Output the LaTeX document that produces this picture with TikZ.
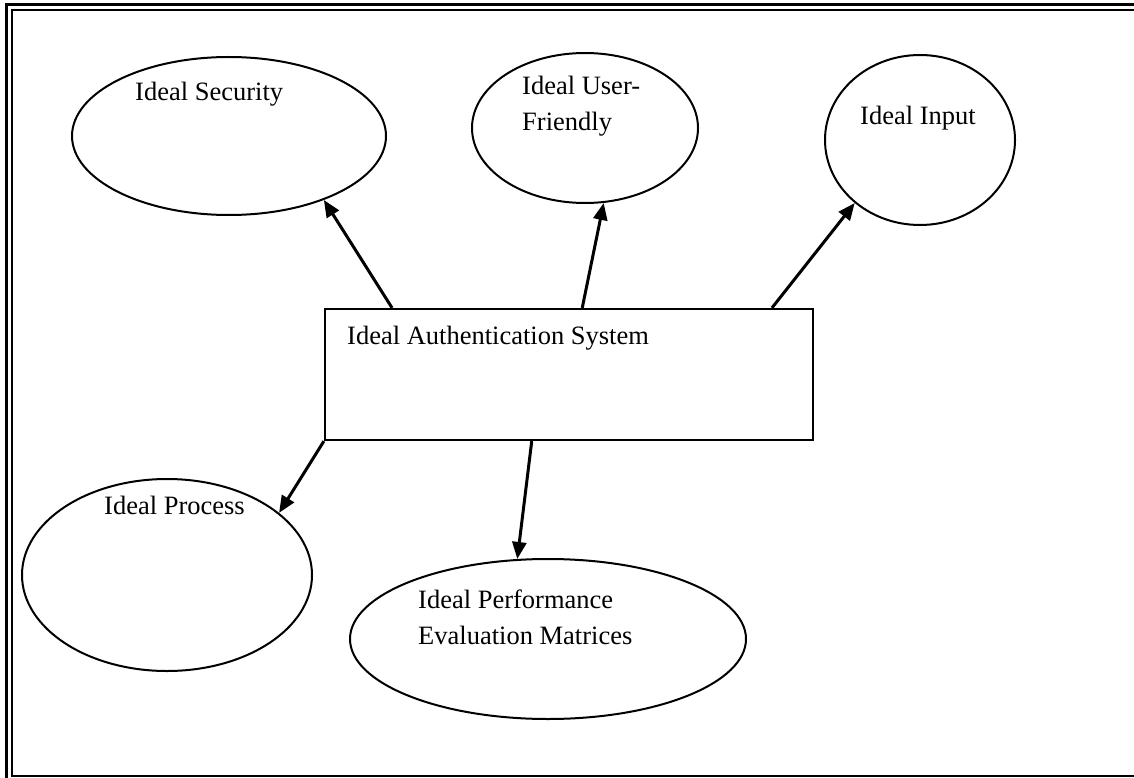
\documentclass[tikz,border=0pt]{standalone}
\usepackage{fontspec}
\setmainfont{Liberation Serif}
\usepackage{tikz}
\usetikzlibrary{arrows.meta, positioning, calc, shapes.geometric}

\begin{document}
\begin{tikzpicture}[
  x=1pt, y=-1pt,
  bubble/.style={draw=black, ellipse, line width=2pt, inner sep=0pt},
  sysbox/.style={draw=black, rectangle, line width=2.2pt, inner sep=0pt},
  lbl/.style={inner sep=0pt, anchor=north west, align=left,
              font=\fontsize{26.5}{36}\selectfont},
  arr/.style={-{Triangle[length=17pt, width=14pt]}, line width=3pt}
]
  \useasboundingbox (0,0) rectangle (1134,778);
  \clip (0,0) rectangle (1134,778);

  % Page frame (double rule)
  \draw[line width=3pt] (6,4.5) rectangle (1145,790);
  \draw[line width=2pt] (12,10) rectangle (1139,775.5);

  % Centre box
  \node[sysbox, minimum width=488pt, minimum height=131pt] (auth) at (569,374.5) {};
  \node[lbl] (authText) at (347,326) {Ideal Authentication System};

  % Top ellipses
  \node[bubble, minimum width=314pt, minimum height=158pt] (security) at (229,136) {};
  \node[lbl] (securityText) at (135,82) {Ideal Security};

  \node[bubble, minimum width=226pt, minimum height=150pt] (friendly) at (585,128) {};
  \node[lbl] (friendlyText) at (522,76) {Ideal User-\\Friendly};

  \node[bubble, minimum width=190pt, minimum height=170pt] (input) at (920,140) {};
  \node[lbl] (inputText) at (860,106) {Ideal Input};

  % Bottom ellipses
  \node[bubble, minimum width=290pt, minimum height=192pt] (process) at (167,575) {};
  \node[lbl] (processText) at (104,496) {Ideal Process};

  \node[bubble, minimum width=396pt, minimum height=160pt] (perf) at (548,639) {};
  \node[lbl] (perfText) at (418,590) {Ideal Performance\\Evaluation Matrices};

  % Arrows out of the box
  \draw[arr] ($(auth.north west)!0.139!(auth.north east)$) -- (security.-34);
  \draw[arr] ($(auth.north west)!0.527!(auth.north east)$) -- (friendly.-76.5);
  \draw[arr] ($(auth.north west)!0.914!(auth.north east)$) -- (input.-136);
  \draw[arr] (auth.south west) -- (process.29);
  \draw[arr] ($(auth.south west)!0.424!(auth.south east)$) -- (perf.111);
\end{tikzpicture}
\end{document}
